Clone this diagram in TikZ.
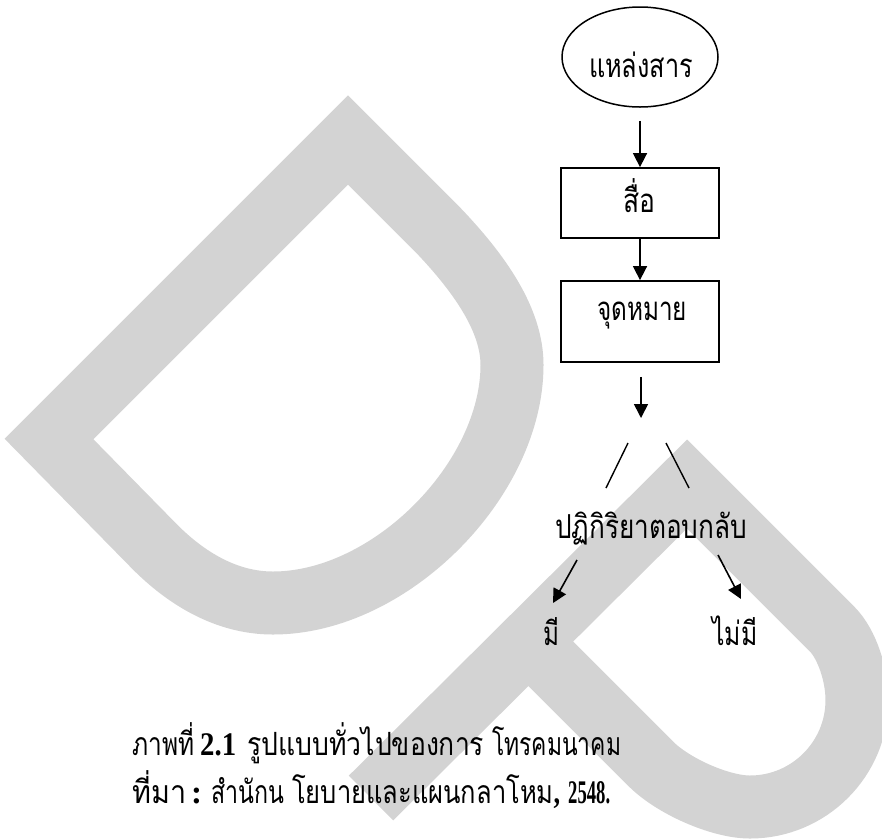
\documentclass[tikz,border=0pt]{standalone}
\usepackage{fontspec}
\usepackage{graphicx}
\newfontfamily\thaid[Script=Thai]{Loma}
\newfontfamily\numf{Liberation Serif}
\usetikzlibrary{arrows.meta,shapes.geometric}
\definecolor{wm}{RGB}{211,211,211}
\newcommand\fitw[2]{\resizebox{#1}{\height}{#2}}
\newcommand\numb[1]{{\numf\bfseries\fontsize{33}{38}\selectfont #1}}
\tikzset{
  wmark/.style={draw=wm, line width=63pt, line join=miter},
  arr/.style={-{Triangle[length=14pt,width=14pt]}, line width=1.6pt},
  plain/.style={line width=1.4pt},
  stepbox/.style={draw, line width=1.8pt, minimum width=158pt, inner sep=0pt},
  dtext/.style={font=\thaid\fontsize{33}{40}\selectfont, inner sep=0pt, anchor=base},
  ctext/.style={font=\thaid\fontsize{32}{38}\selectfont, inner sep=0pt, anchor=base west},
}
\begin{document}
\begin{tikzpicture}[x=1pt,y=-1pt]
\useasboundingbox[fill=white] (0,0) rectangle (882,839);
% watermark
\draw[wmark] (49,439) -- (348,140) -- (438,230)
  .. controls (480,274) and (512,320) .. (512,365)
  .. controls (512,480) and (390,603) .. (273,603)
  .. controls (225,603) and (185,577) .. (155,547) -- cycle;
\draw[wmark] (371,798) -- (687,484) -- (832,629)
  .. controls (847,644) and (857,675) .. (857,700)
  .. controls (857,759) and (809,807) .. (750,807)
  .. controls (720,807) and (673,786) .. (651,764) -- (529,642);
% flowchart
\node[ellipse, draw, line width=1.5pt, minimum width=156pt, minimum height=100pt, inner sep=0pt] (src) at (640,57) {};
\node[dtext] (srct) at (641,77) {\fitw{104pt}{แหล่งสาร}};
\node[stepbox, minimum height=70pt] (med) at (640,203) {};
\node[dtext] (medt) at (639,212) {\fitw{32pt}{สื่อ}};
\node[stepbox, minimum height=81pt] (dst) at (640,321.5) {};
\node[dtext] (dstt) at (642,320) {\fitw{90pt}{จุดหมาย}};
\draw[arr, shorten <=13pt] (src.south) -- (med.north);
\draw[arr] (med.south) -- (dst.north);
\coordinate (a3end) at (641,418);
\draw[arr, shorten <=14pt] (dst.south -| a3end) -- (a3end);
\coordinate (l1a) at (628,443);
\coordinate (l1b) at (606,488);
\coordinate (l2a) at (666,443);
\coordinate (l2b) at (689,488);
\draw[plain] (l1a) -- (l1b);
\draw[plain] (l2a) -- (l2b);
\node[dtext] (fb) at (651,538) {\fitw{192pt}{ปฏิกิริยาตอบกลับ}};
\coordinate (y1) at (577,560);
\coordinate (y2) at (553,603);
\coordinate (n1) at (718,555);
\coordinate (n2) at (741,599);
\draw[arr] (y1) -- (y2);
\draw[arr] (n1) -- (n2);
\node[dtext] (yes) at (551,645) {\fitw{16pt}{มี}};
\node[dtext] (no) at (735,645) {\fitw{45pt}{ไม่มี}};
% caption
\node[ctext] (cap1) at (132,755) {%
  \makebox[68pt][l]{\fitw{62pt}{ภาพที่}}%
  \makebox[47pt][l]{\fitw{36pt}{\numb{2.1}}}%
  \makebox[245pt][l]{\fitw{237pt}{รูปแบบทั่วไปของการ}}%
  \fitw{129pt}{โทรคมนาคม}};
\node[ctext] (cap2) at (132,803) {%
  \makebox[59pt][l]{\fitw{54pt}{ที่มา}}%
  \makebox[20pt][l]{\numb{:}}%
  \makebox[81pt][l]{\fitw{73pt}{สำนักน}}%
  \makebox[276pt][l]{\fitw{268pt}{โยบายและแผนกลาโหม\numb{,}}}%
  \fitw{42pt}{\numb{2548.}}};
\end{tikzpicture}
\end{document}
